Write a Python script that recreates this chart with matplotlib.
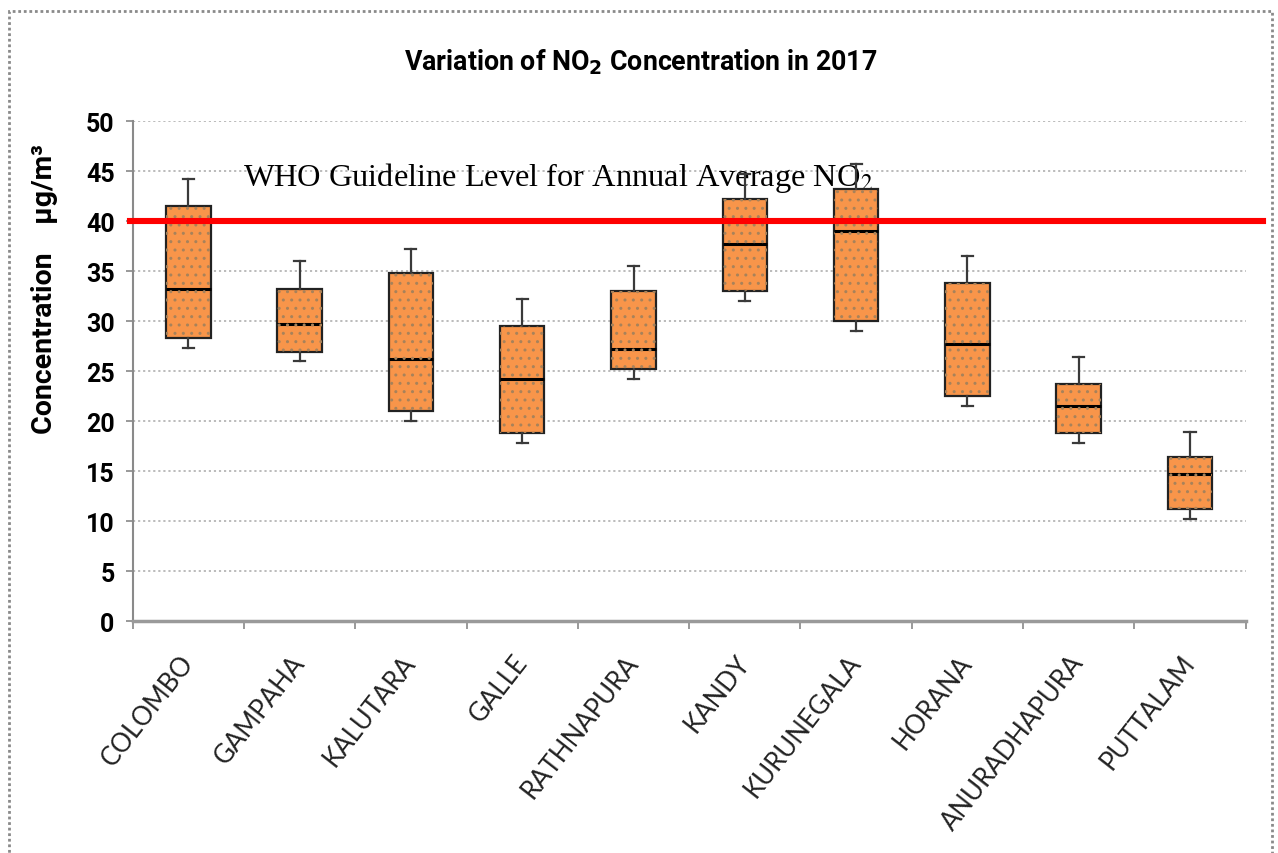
import numpy as np
import matplotlib
matplotlib.use('Agg')
from matplotlib import pyplot as plt
from matplotlib.patches import Rectangle, PathPatch

#-------------------------------------------------

sites   = ['COLOMBO', 'GAMPAHA', 'KALUTARA', 'GALLE', 'RATHNAPURA',
           'KANDY', 'KURUNEGALA', 'HORANA', 'ANURADHAPURA', 'PUTTALAM']
w_low   = [27.3, 26.0, 20.0, 17.8, 24.2, 32.0, 29.0, 21.5, 17.8, 10.2]
q1      = [28.3, 26.9, 21.0, 18.8, 25.2, 33.0, 30.0, 22.5, 18.8, 11.2]
median  = [33.2, 29.7, 26.2, 24.2, 27.2, 37.7, 39.0, 27.7, 21.5, 14.7]
q3      = [41.5, 33.2, 34.8, 29.5, 33.0, 42.2, 43.2, 33.8, 23.7, 16.4]
w_high  = [44.2, 36.0, 37.2, 32.2, 35.5, 44.7, 45.7, 36.5, 26.4, 18.9]

yticks     = [0, 5, 10, 15, 20, 25, 30, 35, 40, 45, 50]
WHO_LIMIT  = 40
title      = r'Variation of NO$_\mathbf{2}$ Concentration in 2017'
ylabel     = 'Concentration    \u00b5g/m\u00b3'
who_label  = r'WHO Guideline Level for Annual Average NO$_2$'

#-------------------------------------------------

bold_sans = ['Roboto', 'DejaVu Sans']
serif     = ['Liberation Serif', 'DejaVu Serif']

fig = plt.figure(figsize=(12.78, 8.54), dpi=100)
ax  = fig.add_axes([0.1038, 0.2713, 0.8709, 0.5855])

### outer dotted frame
fig.patches.append( Rectangle((9/1278., -0.05), 1263/1278., 1 - 12/854. + 0.05,
    transform=fig.transFigure, fill=False, edgecolor='#8a8a8a',
    linestyle=(0, (1, 1)), linewidth=2, clip_on=False) )

stats = []
for i in range(len(sites)):
    stats.append( dict(label=sites[i], whislo=w_low[i], q1=q1[i], med=median[i],
                       q3=q3[i], whishi=w_high[i], fliers=[]) )

pos = np.arange(len(sites))
bp = ax.bxp( stats, positions=pos, widths=0.4, capwidths=0.1, patch_artist=True,
    boxprops=dict(facecolor='#f8954a', edgecolor='#222222', linewidth=1.6),
    medianprops=dict(color='black', linewidth=2.2),
    whiskerprops=dict(color='#3a3a3a', linewidth=1.6),
    capprops=dict(color='#3a3a3a', linewidth=1.6),
    zorder=3 )

### speckled fill
for box in bp['boxes']:
    ax.add_patch( PathPatch(box.get_path(), transform=box.get_transform(),
        facecolor='none', edgecolor='#a8825a', linewidth=0, hatch='..', zorder=3.1) )

### guideline
ax.axhline( WHO_LIMIT, xmin=-0.002, xmax=1.0155, color='#ff0000', linewidth=4.4,
    clip_on=False, zorder=5 )
ax.text( 0.49, 43.6, who_label, family=serif, math_fontfamily='stix', fontsize=23.3,
    color='black', va='baseline', ha='left', zorder=2 )

ax.set_xlim(-0.5, len(sites) - 0.5)
ax.set_ylim(0, 50)
ax.set_yticks(yticks)
ax.set_yticklabels([str(t) for t in yticks], family=bold_sans,
    fontweight='bold', fontsize=18)

ax.set_xticks(pos)
ax.set_xticklabels(sites, family=['Lato', 'DejaVu Sans'], fontsize=18.5,
    rotation=52, rotation_mode='anchor', ha='right', va='center', color='#222222')
ax.set_xticks(np.arange(len(sites) + 1) - 0.5, minor=True)
ax.tick_params(axis='x', which='major', length=0, pad=26)
ax.tick_params(axis='x', which='minor', length=6, color='#888888', width=1.2)
ax.tick_params(axis='y', length=5, color='#888888', width=1.2, pad=8)

ax.grid(axis='y', color='#b5b5b5', linestyle=(0, (1.2, 1.6)), linewidth=1.3, zorder=0)
ax.set_axisbelow(True)

for side in ['top', 'right']:
    ax.spines[side].set_visible(False)
ax.spines['left'].set_color('#8a8a8a')
ax.spines['left'].set_linewidth(1.5)
ax.spines['bottom'].set_color('#9a9a9a')
ax.spines['bottom'].set_linewidth(2.5)

ax.set_ylabel(ylabel, family=bold_sans, fontweight='bold', fontsize=20.5, va='center')
ax.yaxis.set_label_coords(-0.079, 0.667)

fig.text( 641/1278., 1 - 62/854., title, family=bold_sans, math_fontfamily='dejavusans',
    fontweight='bold', fontsize=19.3, ha='center', va='center' )

fig.savefig('out.png', dpi=100)
plt.close(fig)
